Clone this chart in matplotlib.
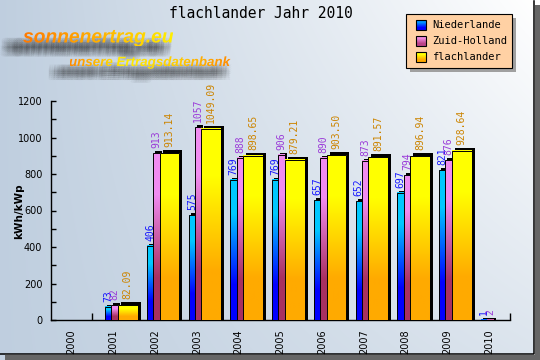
import numpy as np
import matplotlib
matplotlib.use("Agg")
import matplotlib.pyplot as plt
from matplotlib.patches import Rectangle, PathPatch
from matplotlib.textpath import TextPath
from matplotlib.font_manager import FontProperties
from matplotlib.ticker import MultipleLocator

# data
years = ["2000", "2001", "2002", "2003", "2004", "2005",
         "2006", "2007", "2008", "2009", "2010"]
niederlande = [None, 73, 406, 575, 769, 769, 657, 652, 697, 821, 1]
zuid_holland = [None, 82, 913, 1057, 888, 906, 890, 873, 794, 876, 2]
flachlander = [None, 82.09, 913.14, 1049.09, 898.65, 879.21,
               903.50, 891.57, 896.94, 928.64, None]
series_names = ["Niederlande", "Zuid-Holland", "flachlander"]

title = "flachlander Jahr 2010"
ylabel = "kWh/kWp"

W, H = 540, 360
fig = plt.figure(figsize=(W / 100, H / 100), dpi=100)
fig.patch.set_facecolor("white")


def Y(y):
    # image pixel row -> bg axes coordinate (y up)
    return H - y


# ---- background layer in pixel coordinates ----
bg = fig.add_axes([0, 0, 1, 1])
bg.set_axis_off()

gx, gy = np.meshgrid(np.linspace(0, 1, 270), np.linspace(0, 1, 180))
t = gx * (0.45 + 0.55 * (1 - gy))
c0 = np.array([0.75, 0.81, 0.875])
grad = c0[None, None, :] + (1 - c0)[None, None, :] * t[..., None]
bg.imshow(grad, extent=(0, 534, Y(354), Y(0)), origin="upper",
          aspect="auto", interpolation="bilinear", zorder=0)
bg.add_patch(Rectangle((0, Y(360)), 5, 6, color="#c2d0e0", lw=0, zorder=0))
bg.add_patch(Rectangle((5, Y(360)), 535, 5, color="#666666", lw=0, zorder=0))
bg.add_patch(Rectangle((535, Y(360)), 5, 355, color="#666666", lw=0, zorder=0))
bg.plot([534, 534, 0], [Y(1), Y(354), Y(354)], color="black", lw=1.1, zorder=1)


def gradient_text(s, x, baseline, width, colors, shadow=(-16, -10)):
    fp = FontProperties(family="Liberation Sans", weight="bold", style="italic")
    w1 = TextPath((0, 0), s, size=1, prop=fp).get_extents().width
    size = width / w1
    # blurry dark shadow
    for ox in np.linspace(-7, 7, 7):
        for oy in np.linspace(-4, 4, 5):
            sp = TextPath((x + shadow[0] + ox, Y(baseline) + shadow[1] + oy),
                          s, size=size * 1.05, prop=fp)
            bg.add_patch(PathPatch(sp, facecolor="#202020", edgecolor="none",
                                   alpha=0.045, zorder=2))
    tp = TextPath((x, Y(baseline)), s, size=size, prop=fp)
    patch = PathPatch(tp, facecolor="none", edgecolor="none", zorder=3)
    bg.add_patch(patch)
    ext = tp.get_extents()
    cols = np.array([matplotlib.colors.to_rgb(c) for c in colors])
    xs = np.linspace(0, len(cols) - 1, 200)
    row = np.stack([np.interp(xs, np.arange(len(cols)), cols[:, k]) for k in range(3)], -1)
    img = np.repeat(row[None, :, :], 2, axis=0)
    im = bg.imshow(img, extent=(ext.x0, ext.x1, ext.y0, ext.y1), aspect="auto",
                   interpolation="bilinear", zorder=3)
    im.set_clip_path(patch)


gradient_text("sonnenertrag.eu", 23, 42.5, 150, ["#ff7a00", "#ffb000", "#ffee00"])
gradient_text("unsere Ertragsdatenbank", 69, 66, 161,
              ["#ff8a00", "#ffee00", "#ffcc00", "#ff8a00"], shadow=(-14, -10))

# legend
lx0, ly0, lx1, ly1 = 406, 14, 512, 68
bg.add_patch(Rectangle((lx0 + 4, Y(ly1 + 4)), lx1 - lx0, ly1 - ly0,
                       facecolor="#a0a0a0", edgecolor="none", zorder=4))
bg.add_patch(Rectangle((lx0, Y(ly1)), lx1 - lx0, ly1 - ly0,
                       facecolor="#ffd1a4", edgecolor="black", lw=0.8, zorder=5))
leg_grads = [("#0090ff", "#0000ff"), ("#ee88dd", "#bb4488"), ("#ffff00", "#ffaa00")]
for k, name in enumerate(series_names):
    cy = 25 + 16 * k
    top, bot = leg_grads[k]
    g = np.array([matplotlib.colors.to_rgb(top), matplotlib.colors.to_rgb(bot)])[:, None, :]
    bg.imshow(g, extent=(416, 426, Y(cy + 5), Y(cy - 5)), aspect="auto",
              interpolation="bilinear", zorder=6)
    bg.add_patch(Rectangle((416, Y(cy + 5)), 10, 10, facecolor="none",
                           edgecolor="black", lw=0.8, zorder=7))
    bg.text(432, Y(cy), name, fontsize=7.5, family="DejaVu Sans Mono",
            va="center", ha="left", zorder=7)

bg.set_xlim(0, W)
bg.set_ylim(0, H)

fig.text(261 / W, 1 - 13 / H, title, fontsize=10.5, family="DejaVu Sans Mono",
         ha="center", va="center")
fig.text(19 / W, 1 - 211 / H, ylabel, fontsize=7.5, fontweight="bold",
         rotation=90, ha="center", va="center")

# ---- chart axes ----
ax = fig.add_axes([50.7 / W, 40 / H, 459.3 / W, 219 / H])
ax.patch.set_alpha(0)
ax.set_xlim(-0.5, len(years) - 0.5)
ax.set_ylim(0, 1200)
for side in ("top", "right"):
    ax.spines[side].set_visible(False)
for side in ("left", "bottom"):
    ax.spines[side].set_linewidth(1)

px_x = 1 / 41.75            # one pixel in category units
px_y = 1200 / 219           # one pixel in kWh/kWp

styles = [
    dict(vals=niederlande, off=-0.195, w=0.15, grad=("#00c8ff", "#0000ff"),
         lab="#1515ff", fmt="{:d}", sh=2),
    dict(vals=zuid_holland, off=-0.045, w=0.155, grad=("#f08cf0", "#a83060"),
         lab="#9a3ad8", fmt="{:d}", sh=2),
    dict(vals=flachlander, off=0.11, w=0.47, grad=("#ffff00", "#ffaa00"),
         lab="#cc8400", fmt="{:.2f}", sh=3),
]

z = 2
for st in styles:
    g = np.array([matplotlib.colors.to_rgb(st["grad"][0]),
                  matplotlib.colors.to_rgb(st["grad"][1])])[:, None, :]
    dx, dy = st["sh"] * px_x, st["sh"] * px_y
    for i, v in enumerate(st["vals"]):
        if v is None:
            continue
        x0 = i + st["off"]
        x1 = x0 + st["w"]
        ax.add_patch(Rectangle((x0 + dx, 0), st["w"], v + dy, facecolor="black",
                               edgecolor="none", zorder=z))
        ax.imshow(g, extent=(x0, x1, 0, v), aspect="auto",
                  interpolation="bilinear", zorder=z + 1)
        ax.add_patch(Rectangle((x0, 0), st["w"], v, facecolor="none",
                               edgecolor="black", lw=0.7, zorder=z + 1))
        ax.annotate(st["fmt"].format(v), xy=((x0 + x1) / 2, v + dy),
                    xytext=(0, 3), textcoords="offset pixels", rotation=90,
                    ha="center", va="bottom", fontsize=7,
                    family="DejaVu Sans Mono", color=st["lab"], zorder=10)
    z += 2

ax.set_xlim(-0.5, len(years) - 0.5)
ax.set_ylim(0, 1200)
ax.set_xticks(range(len(years)))
ax.set_xticklabels(years, rotation=90)
ax.set_xticks(np.arange(0.5, len(years), 1), minor=True)
ax.tick_params(axis="x", which="major", length=0, pad=7, labelsize=7)
ax.tick_params(axis="x", which="minor", direction="in", length=5, width=1)
ax.yaxis.set_major_locator(MultipleLocator(200))
ax.yaxis.set_minor_locator(MultipleLocator(100))
ax.tick_params(axis="y", which="both", direction="in", length=3.5, width=1,
               pad=6, labelsize=7)

fig.savefig("out.png", dpi=100)
